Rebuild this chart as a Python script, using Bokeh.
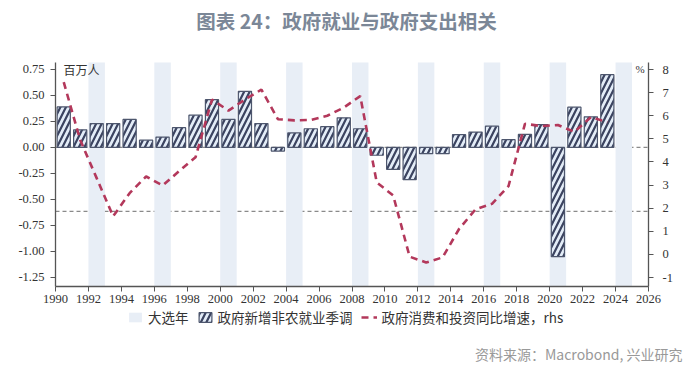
from bokeh.plotting import figure
from bokeh.layouts import column
from bokeh.models import (Range1d, LinearAxis, FixedTicker, NumeralTickFormatter,
                          Span, Label, Legend, LegendItem, ColumnDataSource)
from bokeh.embed import file_html
from bokeh.resources import INLINE

# ---------------- data ----------------
years = list(range(1990, 2024))
gov_jobs = [0.39, 0.17, 0.23, 0.23, 0.27, 0.07, 0.10, 0.19, 0.31, 0.46,
            0.27, 0.54, 0.23, -0.035, 0.14, 0.18, 0.20, 0.285, 0.18, -0.075,
            -0.21, -0.31, -0.06, -0.06, 0.123, 0.148, 0.205, 0.075, 0.125, 0.22,
            -1.05, 0.387, 0.295, 0.70]
gov_spend_yoy = [7.45, 4.95, 3.3, 1.65, 2.65, 3.37, 2.98, 3.6, 4.2, 6.7,
                 6.22, 6.7, 7.13, 5.85, 5.8, 5.82, 6.0, 6.35, 6.85, 3.12,
                 2.55, -0.1, -0.35, -0.13, 1.1, 1.95, 2.19, 2.95, 5.65, 5.55,
                 5.6, 5.3, 5.94, 5.72]
election_years = [1992, 1996, 2000, 2004, 2008, 2012, 2016, 2020, 2024]
ref_lines = [0.0, -0.615]
x_ticks = list(range(1990, 2027, 2))
left_ticks = [-1.25, -1.0, -0.75, -0.5, -0.25, 0.0, 0.25, 0.5, 0.75]
right_ticks = list(range(-1, 9))

title_text = "图表 24：政府就业与政府支出相关"
source_text = "资料来源：Macrobond, 兴业研究"
lbl_shade = "大选年"
lbl_bars = "政府新增非农就业季调"
lbl_line = "政府消费和投资同比增速，rhs"
left_unit = "百万人"
right_unit = "%"

# ---------------- styles ----------------
SHADE = dict(fill_color="#e8eef6", line_color=None)
BAR = dict(fill_color="#e4edf8", line_color="#4d566d", line_width=1.2,
           hatch_pattern="/", hatch_color="#3b4360", hatch_weight=2.2,
           hatch_scale=11)
LINE = dict(line_color="#b3385b", line_width=2.6, line_dash="7 5")
CJK = "Noto Sans CJK SC"

# ---------------- geometry ----------------
Y0, Y1 = -1.337, 0.817
R0, R1 = -1.389, 8.303
BOX_H = 224
EXTRA_TOP = 62          # title room inside the frame
FRAME_H = BOX_H + EXTRA_TOP
ly = (Y1 - Y0) / BOX_H
ry = (R1 - R0) / BOX_H
W = 692

p = figure(frame_width=593, frame_height=FRAME_H, output_backend="svg",
           toolbar_location=None,
           x_range=Range1d(1990, 2026),
           y_range=Range1d(Y0, Y1 + EXTRA_TOP * ly),
           min_border_left=55, min_border_right=44, min_border_top=0,
           min_border_bottom=0)
p.extra_y_ranges = {"rhs": Range1d(R0, R1 + EXTRA_TOP * ry)}
p.outline_line_color = None
p.xgrid.visible = False
p.ygrid.visible = False
p.background_fill_color = "white"
p.border_fill_color = "white"

AX = "#555555"
TICK_FONT = "Liberation Serif"

def style_axis(ax):
    ax.axis_line_color = AX
    ax.axis_line_width = 1.3
    ax.major_tick_line_color = AX
    ax.major_tick_out = 5
    ax.major_tick_in = 0
    ax.minor_tick_line_color = None
    ax.major_label_text_font = TICK_FONT
    ax.major_label_text_font_size = "12.5px"
    ax.major_label_text_color = "#333333"

xa = p.xaxis[0]
style_axis(xa)
xa.ticker = FixedTicker(ticks=x_ticks)
xa.major_label_standoff = 3

ya = p.yaxis[0]
style_axis(ya)
ya.ticker = FixedTicker(ticks=left_ticks)
ya.formatter = NumeralTickFormatter(format="0.00")
ya.major_label_standoff = 6
ya.bounds = (Y0, Y1)

ra = LinearAxis(y_range_name="rhs")
style_axis(ra)
ra.ticker = FixedTicker(ticks=right_ticks)
ra.formatter = NumeralTickFormatter(format="0")
ra.major_label_standoff = 9
ra.bounds = (R0, R1)
p.add_layout(ra, "right")

# election-year shading
shade_src = ColumnDataSource(dict(left=election_years,
                                  right=[y + 1 for y in election_years],
                                  bottom=[Y0] * len(election_years),
                                  top=[Y1] * len(election_years)))
p.quad(left="left", right="right", bottom="bottom", top="top",
       source=shade_src, **SHADE)

# reference dashed lines
for v in ref_lines:
    p.add_layout(Span(location=v, dimension="width", line_color="#8a8a8a",
                      line_dash="4 3", line_width=1.2, level="underlay"))

# bars
bar_src = ColumnDataSource(dict(x=[y + 0.5 for y in years], top=gov_jobs))
p.vbar(x="x", top="top", bottom=0, width=0.8, source=bar_src, **BAR)

# line (right axis)
line_src = ColumnDataSource(dict(x=[y + 0.5 for y in years], y=gov_spend_yoy))
p.line(x="x", y="y", source=line_src, y_range_name="rhs", **LINE)

# title and unit labels (inside the frame)
p.add_layout(Label(x=291, y=FRAME_H - 20, x_units="screen", y_units="screen",
                   text=title_text, text_align="center", text_baseline="middle",
                   text_font=CJK, text_font_style="bold",
                   text_font_size="19.5px", text_color="#7b8797"))
p.add_layout(Label(x=8, y=FRAME_H - 68.5, x_units="screen", y_units="screen",
                   text=left_unit, text_align="left", text_baseline="middle",
                   text_font=CJK, text_font_size="12px", text_color="#333333"))
p.add_layout(Label(x=584.5, y=FRAME_H - 68, x_units="screen", y_units="screen",
                   text=right_unit, text_align="center", text_baseline="middle",
                   text_font=TICK_FONT, text_font_size="11px",
                   text_color="#333333"))

# ---------------- footer: legend + source ----------------
H2 = 62
f = figure(frame_width=W, frame_height=H2, output_backend="svg",
           toolbar_location=None, x_range=Range1d(0, 1), y_range=Range1d(0, 1),
           x_axis_type=None, y_axis_type=None,
           min_border_left=0, min_border_right=0, min_border_top=0,
           min_border_bottom=0)
f.outline_line_color = None
f.xgrid.visible = False
f.ygrid.visible = False
f.background_fill_color = "white"
f.border_fill_color = "white"

# key renderers: same data and styles as the chart (they fall outside this
# footer's ranges, so only their legend swatches are seen)
k_shade = f.quad(left="left", right="right", bottom="bottom", top="top",
                 source=shade_src, **SHADE)
k_bar = f.vbar(x="x", top="top", bottom=0, width=0.8, source=bar_src, **BAR)
k_line = f.line(x="x", y="y", source=line_src, **LINE)

legend = Legend(items=[LegendItem(label=lbl_shade, renderers=[k_shade]),
                       LegendItem(label=lbl_bars, renderers=[k_bar]),
                       LegendItem(label=lbl_line, renderers=[k_line])],
                orientation="horizontal", location=(127, H2 - 22),
                label_text_font=CJK, label_text_font_size="13.5px",
                label_text_color="#333333", glyph_width=16, glyph_height=12,
                label_standoff=5, spacing=8, padding=1, margin=0,
                border_line_color=None, background_fill_alpha=0)
f.add_layout(legend, "center")

f.add_layout(Label(x=627, y=14, x_units="screen", y_units="screen",
                   text=source_text, text_align="right", text_baseline="middle",
                   text_font=CJK, text_font_size="14px", text_color="#999999"))

layout = column(p, f, spacing=0)
open("out.html", "w").write(file_html(layout, INLINE))
